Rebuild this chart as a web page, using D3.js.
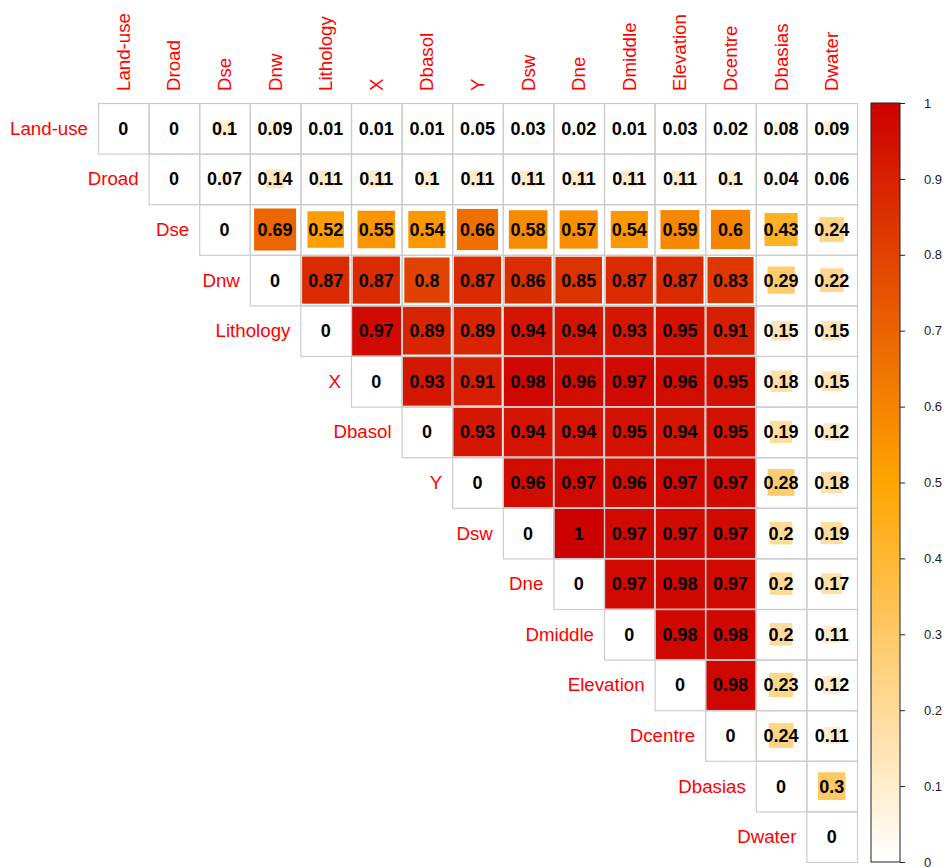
<!DOCTYPE html>
<html>
<head>
<meta charset="utf-8">
<script src="https://cdn.jsdelivr.net/npm/d3@7"></script>
<style>
  html, body { margin: 0; padding: 0; background: #fff; }
  svg { display: block; }
</style>
</head>
<body>
<svg id="chart" width="949" height="867"></svg>
<script>
// Variable names, in matrix order
const variables = ["Land-use", "Droad", "Dse", "Dnw", "Lithology", "X", "Dbasol", "Y",
  "Dsw", "Dne", "Dmiddle", "Elevation", "Dcentre", "Dbasias", "Dwater"];

// Upper-triangle correlation values, one row per variable (starting at the diagonal)
const rowLanduse   = [0, 0, 0.1, 0.09, 0.01, 0.01, 0.01, 0.05, 0.03, 0.02, 0.01, 0.03, 0.02, 0.08, 0.09];
const rowDroad     = [0, 0.07, 0.14, 0.11, 0.11, 0.1, 0.11, 0.11, 0.11, 0.11, 0.11, 0.1, 0.04, 0.06];
const rowDse       = [0, 0.69, 0.52, 0.55, 0.54, 0.66, 0.58, 0.57, 0.54, 0.59, 0.6, 0.43, 0.24];
const rowDnw       = [0, 0.87, 0.87, 0.8, 0.87, 0.86, 0.85, 0.87, 0.87, 0.83, 0.29, 0.22];
const rowLithology = [0, 0.97, 0.89, 0.89, 0.94, 0.94, 0.93, 0.95, 0.91, 0.15, 0.15];
const rowX         = [0, 0.93, 0.91, 0.98, 0.96, 0.97, 0.96, 0.95, 0.18, 0.15];
const rowDbasol    = [0, 0.93, 0.94, 0.94, 0.95, 0.94, 0.95, 0.19, 0.12];
const rowY         = [0, 0.96, 0.97, 0.96, 0.97, 0.97, 0.28, 0.18];
const rowDsw       = [0, 1, 0.97, 0.97, 0.97, 0.2, 0.19];
const rowDne       = [0, 0.97, 0.98, 0.97, 0.2, 0.17];
const rowDmiddle   = [0, 0.98, 0.98, 0.2, 0.11];
const rowElevation = [0, 0.98, 0.23, 0.12];
const rowDcentre   = [0, 0.24, 0.11];
const rowDbasias   = [0, 0.3];
const rowDwater    = [0];

const legendTicks = [0, 0.1, 0.2, 0.3, 0.4, 0.5, 0.6, 0.7, 0.8, 0.9, 1];

const rows = [rowLanduse, rowDroad, rowDse, rowDnw, rowLithology, rowX, rowDbasol, rowY,
  rowDsw, rowDne, rowDmiddle, rowElevation, rowDcentre, rowDbasias, rowDwater];

// Flatten into cells {r, c, v}
const cells = [];
rows.forEach((vals, i) => {
  vals.forEach((v, k) => cells.push({ r: variables[i], c: variables[i + k], v }));
});

const svg = d3.select("#chart");
const gridLeft = 98, gridTop = 103, gridRight = 857, gridBottom = 862;
const labelFont = "Liberation Sans, Arial, sans-serif";

const x = d3.scaleBand().domain(variables).range([gridLeft, gridRight]);
const y = d3.scaleBand().domain(variables).range([gridTop, gridBottom]);
const cell = x.bandwidth();

const color = d3.scaleLinear()
  .domain([0, 0.5, 1])
  .range(["#ffffff", "#ffa500", "#cd0000"])
  .interpolate(d3.interpolateRgb);

// Squares whose area is proportional to |r|
svg.append("g").selectAll("rect")
  .data(cells.filter(d => d.v > 0))
  .join("rect")
  .attr("x", d => x(d.c) + (cell - cell * Math.sqrt(Math.abs(d.v))) / 2)
  .attr("y", d => y(d.r) + (cell - cell * Math.sqrt(Math.abs(d.v))) / 2)
  .attr("width", d => cell * Math.sqrt(Math.abs(d.v)))
  .attr("height", d => cell * Math.sqrt(Math.abs(d.v)))
  .attr("fill", d => color(d.v));

// Cell grid
svg.append("g").selectAll("rect")
  .data(cells)
  .join("rect")
  .attr("x", d => x(d.c) + 0.5)
  .attr("y", d => y(d.r) + 0.5)
  .attr("width", cell)
  .attr("height", cell)
  .attr("fill", "none")
  .attr("stroke", "#cccccc")
  .attr("stroke-width", 1.2);

// Coefficient labels
svg.append("g").selectAll("text")
  .data(cells)
  .join("text")
  .attr("x", d => x(d.c) + cell / 2)
  .attr("y", d => y(d.r) + cell / 2)
  .attr("dy", "0.36em")
  .attr("text-anchor", "middle")
  .attr("font-family", labelFont)
  .attr("font-weight", "bold")
  .attr("font-size", 18)
  .attr("fill", "#000")
  .text(d => String(d.v));

// Row labels, placed beside the diagonal cell
svg.append("g").selectAll("text")
  .data(variables)
  .join("text")
  .attr("x", d => x(d) - 10)
  .attr("y", d => y(d) + cell / 2)
  .attr("dy", "0.35em")
  .attr("text-anchor", "end")
  .attr("font-family", labelFont)
  .attr("font-size", 18.7)
  .attr("fill", "#ff0000")
  .text(d => d);

// Column labels, rotated
svg.append("g").selectAll("text")
  .data(variables)
  .join("text")
  .attr("transform", d => `translate(${x(d) + cell / 2},${gridTop - 12}) rotate(-90)`)
  .attr("dy", "0.35em")
  .attr("text-anchor", "start")
  .attr("font-family", labelFont)
  .attr("font-size", 18.7)
  .attr("fill", "#ff0000")
  .text(d => d);

// Colour legend
const barX = 871, barW = 29;
const legendScale = d3.scaleLinear().domain([0, 1]).range([gridBottom, gridTop]);
const defs = svg.append("defs");
const grad = defs.append("linearGradient")
  .attr("id", "legendGrad")
  .attr("x1", 0).attr("y1", 1).attr("x2", 0).attr("y2", 0);
d3.range(0, 1.0001, 0.05).forEach(t => {
  grad.append("stop").attr("offset", t).attr("stop-color", color(t));
});
svg.append("rect")
  .attr("x", barX)
  .attr("y", gridTop)
  .attr("width", barW)
  .attr("height", gridBottom - gridTop)
  .attr("fill", "url(#legendGrad)")
  .attr("stroke", "#222")
  .attr("stroke-width", 1);

const legendAxis = svg.append("g")
  .attr("transform", `translate(${barX + barW},0)`)
  .call(d3.axisRight(legendScale)
    .tickValues(legendTicks)
    .tickSize(5)
    .tickPadding(19)
    .tickFormat(d => String(d)));
legendAxis.select(".domain").remove();
legendAxis.selectAll("line").attr("stroke", "#222");
legendAxis.selectAll("text")
  .attr("font-family", labelFont)
  .attr("font-size", 13)
  .attr("fill", "#1a1a2e");
</script>
</body>
</html>
